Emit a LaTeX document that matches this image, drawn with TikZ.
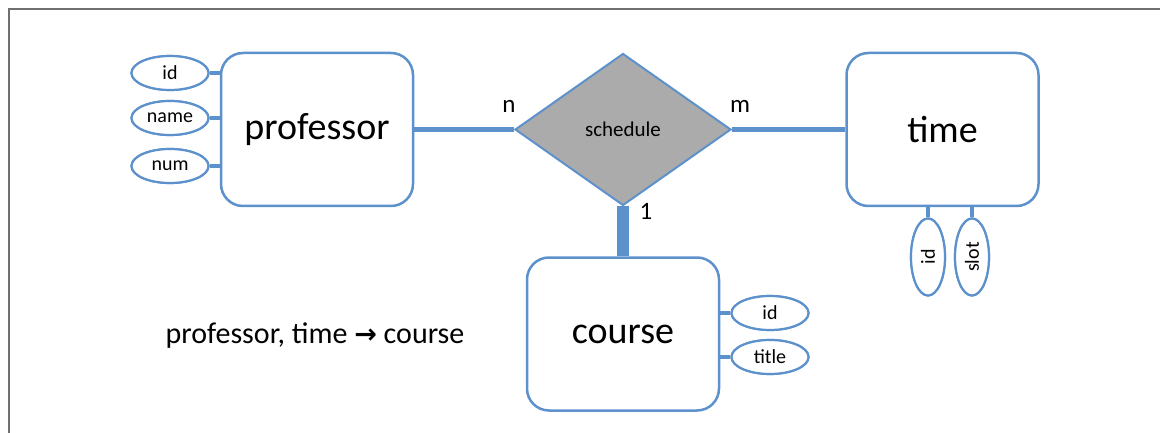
\documentclass[tikz,border=0pt]{standalone}
\usepackage{fontspec}
\setmainfont{Carlito}
\newfontfamily\dejavu{DejaVu Sans}
\usetikzlibrary{shapes.geometric}
\definecolor{erblue}{RGB}{93,145,204}
\definecolor{relgray}{RGB}{171,171,171}
\definecolor{framegray}{RGB}{112,112,112}
\tikzset{
  entity/.style={draw=erblue, line width=2.5pt, rounded corners=22pt, fill=white,
    minimum width=192pt, minimum height=153pt, inner sep=0pt,
    font=\fontsize{38}{40}\selectfont},
  attr/.style={draw=erblue, line width=2.2pt, ellipse, fill=white, inner sep=0pt,
    minimum width=77pt, minimum height=34pt, font=\fontsize{20}{22}\selectfont},
  vattr/.style={attr, minimum width=34pt, minimum height=77pt},
  rel/.style={draw=erblue, line width=2pt, diamond, fill=relgray, inner sep=0pt,
    minimum width=216pt, minimum height=152pt, font=\fontsize{21}{23}\selectfont},
  conn/.style={draw=erblue, line width=4.5pt},
  card/.style={inner sep=0pt, font=\fontsize{25}{27}\selectfont},
  framel/.style={draw=framegray, line width=2.5pt}
}
\begin{document}
\begin{tikzpicture}[x=1pt,y=-1pt]
\useasboundingbox (0,0) rectangle (1160,433);
% frame
\coordinate (ftr) at (1160,9);
\coordinate (ftl) at (9,9);
\coordinate (fbl) at (9,433);
\draw[framel] (ftr) -- (ftl) -- (fbl);
% entities
\node[entity] (prof) at (317,129.5) {professor};
\node[entity] (time) at (942.5,129.5) {time};
\node[entity] (course) at (623,334) {course};
% relationship
\node[rel] (sched) at (623,129.5) {schedule};
% attributes of professor
\node[attr] (pid) at (170,73) {id};
\node[attr] (pname) at (170,118) {name};
\node[attr] (pnum) at (170,166) {num};
% attributes of time
\node[vattr] (tid) at (928,257) {\rotatebox{90}{id}};
\node[vattr] (tslot) at (972,257) {\rotatebox{90}{slot}};
% attributes of course
\node[attr] (cid) at (770,313) {id};
\node[attr] (ctitle) at (770,357) {title};
% connectors
\draw[conn] (prof.east) -- (sched.west);
\draw[conn] (sched.east) -- (time.west);
\draw[conn, line width=12pt] (sched.south) -- (course.north);
\draw[conn] (pid.east) -- (prof.west |- pid.east);
\draw[conn] (pname.east) -- (prof.west |- pname.east);
\draw[conn] (pnum.east) -- (prof.west |- pnum.east);
\draw[conn] (tid.north) -- (tid.north |- time.south);
\draw[conn] (tslot.north) -- (tslot.north |- time.south);
\draw[conn] (cid.west) -- (course.east |- cid.west);
\draw[conn] (ctitle.west) -- (course.east |- ctitle.west);
% redraw nodes on top of connectors
\node[attr] at (pid) {id};
\node[attr] at (pname) {name};
\node[attr] at (pnum) {num};
\node[vattr] at (tid) {\rotatebox{90}{id}};
\node[vattr] at (tslot) {\rotatebox{90}{slot}};
\node[attr] at (cid) {id};
\node[attr] at (ctitle) {title};
% cardinalities
\node[card] (cn) at (509,106) {n};
\node[card] (cm) at (740,106) {m};
\node[card] (c1) at (646,211) {1};
% functional dependency
\node[inner sep=0pt, font=\fontsize{30}{32}\selectfont] (fd) at (315,336)
  {professor, time {\dejavu\bfseries\fontsize{27}{29}\selectfont →} course};
\end{tikzpicture}
\end{document}
